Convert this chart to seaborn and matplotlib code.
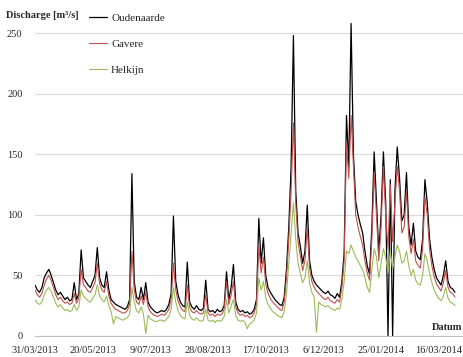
"""
Daily discharge of the Scheldt at Oudenaarde, Gavere and Helkijn
"""

import numpy as np
import pandas as pd
import matplotlib
matplotlib.use('Agg')
import matplotlib.pyplot as plt
import seaborn as sns

# Values, one every 2 days starting 31/03/2013
start_date = '2013-03-31'
stations = ['Oudenaarde', 'Gavere', 'Helkijn']
colors = ['#000000', '#c0504d', '#9bbb59']

oudenaarde = [
    42, 38, 36, 40, 48, 52, 55, 50, 44, 38,
    34, 36, 33, 30, 32, 29, 30, 44, 30, 35,
    71, 48, 45, 42, 40, 45, 50, 73, 48, 42,
    40, 53, 38, 30, 28, 26, 25, 24, 23, 22,
    24, 30, 134, 45, 32, 30, 40, 30, 44, 28,
    24, 22, 20, 19, 20, 21, 20, 22, 26, 35,
    99, 45, 34, 28, 25, 24, 61, 28, 24, 22,
    25, 22, 21, 23, 46, 22, 20, 21, 19, 22,
    20, 21, 25, 53, 30, 40, 59, 28, 22, 20,
    21, 19, 20, 18, 19, 22, 30, 97, 60, 81,
    50, 40, 36, 33, 30, 28, 26, 25, 32, 55,
    90, 140, 248, 120, 85, 74, 60, 70, 108, 62,
    50, 45, 42, 40, 38, 36, 35, 37, 34, 33,
    31, 35, 32, 45, 69, 182, 140, 258, 150, 111,
    100, 92, 85, 70, 58, 51, 90, 152, 110, 69,
    100, 152, 110, 0, 129, 0, 120, 156, 130, 95,
    100, 135, 90, 75, 93, 70, 65, 63, 80, 129,
    110, 80, 65, 55, 48, 45, 42, 50, 62, 45,
    40, 39, 36,
]
gavere = [
    38, 34, 32, 35, 42, 47, 50, 46, 40, 34,
    30, 32, 29, 27, 28, 26, 27, 35, 27, 31,
    55, 42, 40, 37, 36, 40, 44, 60, 43, 38,
    36, 45, 33, 27, 24, 22, 21, 20, 19, 19,
    21, 26, 70, 38, 28, 26, 33, 26, 36, 24,
    20, 18, 17, 16, 17, 18, 17, 19, 22, 30,
    60, 38, 29, 24, 21, 20, 42, 24, 20, 19,
    21, 19, 18, 19, 34, 19, 17, 18, 16, 18,
    17, 18, 22, 45, 26, 34, 45, 24, 19, 17,
    18, 16, 17, 15, 16, 19, 26, 75, 52, 65,
    43, 35, 31, 28, 26, 24, 22, 21, 28, 48,
    80, 120, 176, 110, 78, 66, 54, 62, 90, 56,
    45, 40, 37, 35, 33, 31, 30, 32, 29, 28,
    27, 30, 28, 40, 62, 160, 130, 182, 140, 100,
    90, 82, 75, 62, 52, 46, 80, 135, 100, 62,
    90, 140, 100, 72, 125, 78, 110, 140, 120, 85,
    90, 120, 82, 68, 80, 62, 58, 56, 72, 115,
    100, 72, 58, 49, 43, 40, 37, 44, 54, 40,
    36, 35, 32,
]
helkijn = [
    30, 27, 26, 28, 34, 38, 40, 37, 32, 27,
    24, 26, 23, 21, 22, 20, 21, 26, 21, 24,
    38, 33, 31, 29, 28, 31, 34, 42, 33, 30,
    28, 33, 25, 20, 10, 16, 15, 14, 13, 14,
    15, 18, 40, 28, 21, 19, 24, 18, 2, 17,
    14, 13, 12, 12, 13, 13, 12, 14, 16, 22,
    40, 28, 21, 17, 15, 14, 28, 17, 14, 13,
    15, 13, 12, 13, 22, 13, 12, 13, 11, 13,
    12, 13, 16, 30, 19, 25, 30, 17, 13, 12,
    13, 11, 6, 10, 11, 13, 19, 48, 38, 45,
    32, 26, 23, 20, 19, 17, 16, 15, 20, 35,
    60, 85, 110, 80, 60, 52, 44, 48, 62, 44,
    36, 32, 3, 28, 26, 25, 24, 25, 23, 22,
    21, 23, 22, 30, 45, 70, 68, 75, 70, 65,
    62, 58, 55, 48, 40, 36, 55, 72, 65, 48,
    60, 72, 65, 52, 70, 55, 65, 75, 70, 60,
    62, 70, 58, 50, 55, 46, 43, 42, 50, 68,
    62, 52, 44, 38, 34, 31, 29, 33, 40, 31,
    28, 27, 25,
]

tick_dates = pd.date_range(start_date, periods=8, freq='50D')
tick_labels = ['31/03/2013', '20/05/2013', '9/07/2013', '28/08/2013',
               '17/10/2013', '6/12/2013', '25/01/2014', '16/03/2014']
y_ticks = [0, 50, 100, 150, 200, 250]

dates = pd.date_range(start_date, periods=len(oudenaarde), freq='2D')
df = pd.DataFrame({'Datum': dates, 'Oudenaarde': oudenaarde,
                   'Gavere': gavere, 'Helkijn': helkijn})
df = df.melt(id_vars='Datum', var_name='Station', value_name='Discharge')

sns.set_style('white')
plt.rcParams['font.family'] = ['Liberation Serif', 'DejaVu Serif']

fig = plt.figure(figsize=(4.63, 3.57), dpi=100)
ax = fig.add_axes([0.0756, 0.059, 0.9244, 0.899])

sns.lineplot(data=df, x='Datum', y='Discharge', hue='Station',
             hue_order=stations, palette=colors, linewidth=0.8,
             legend=False, ax=ax)
ax.lines[0].set_linewidth(0.9)

ax.set_xlim(pd.Timestamp(start_date), pd.Timestamp('2014-04-06'))
ax.set_ylim(0, 265)
ax.set_yticks(y_ticks)
ax.set_xticks(tick_dates)
ax.set_xticklabels(tick_labels)
ax.tick_params(axis='x', labelsize=7.5, pad=7.5, length=0)
ax.tick_params(axis='y', labelsize=7.5, pad=9, length=0)
ax.set_xlabel('')
ax.set_ylabel('')
ax.grid(axis='y', color='#d9d9d9', linewidth=0.8)
ax.set_axisbelow(True)
for side in ['top', 'right', 'left']:
    ax.spines[side].set_visible(False)
ax.spines['bottom'].set_color('#bfbfbf')
ax.spines['bottom'].set_linewidth(0.8)
ax.patch.set_alpha(0)

fig.text(0.012, 1 - 15 / 357, 'Discharge [m³/s]', fontsize=7.5,
         fontweight='bold', va='center', ha='left')
fig.text(0.998, 1 - 327 / 357, 'Datum', fontsize=7.5,
         fontweight='bold', va='center', ha='right')

fig.legend(handles=ax.lines[:3], labels=stations, loc='upper left',
           bbox_to_anchor=(0.192, 0.963), frameon=False, fontsize=8,
           borderpad=0, borderaxespad=0, labelspacing=1.45,
           handlelength=1.6, handletextpad=0.4)

fig.savefig('out.png', dpi=100)
